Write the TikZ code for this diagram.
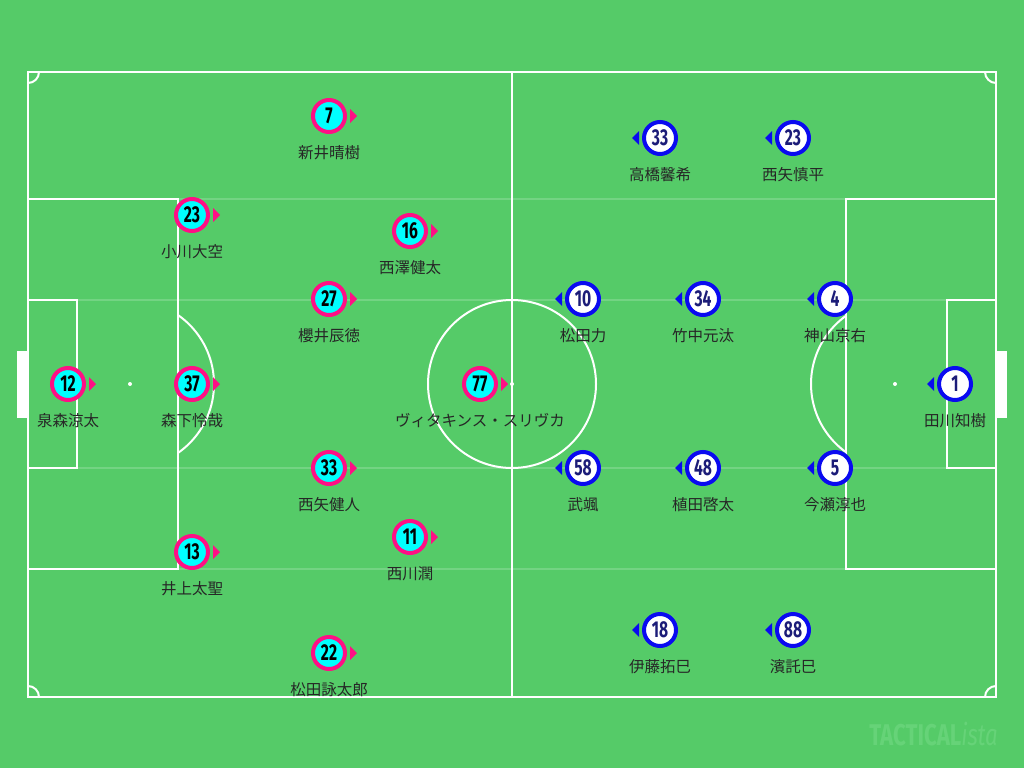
\documentclass[tikz,border=0pt]{standalone}
\usepackage{fontspec}
\newfontfamily\jpfont{Noto Sans CJK JP}
\newfontfamily\numfont[FakeStretch=0.68]{Fira Sans}
\newfontfamily\markfont[FakeStretch=0.74]{Fira Sans}
\usetikzlibrary{positioning}
\definecolor{pitchgreen}{HTML}{55CB68}
\definecolor{markgreen}{HTML}{66D378}
\definecolor{homepink}{HTML}{FF0F85}
\definecolor{homecyan}{HTML}{00FFFF}
\definecolor{awayblue}{HTML}{0A0AF0}
\definecolor{awaynavy}{HTML}{1C1C78}
\begin{document}
\begin{tikzpicture}[x=1pt,y=-1pt,
  pitchline/.style={draw=white,line width=2pt},
  lane/.style={draw=white,draw opacity=0.18,line width=2pt},
  home/.style={circle,draw=homepink,fill=homecyan,line width=4pt,minimum size=32pt,inner sep=0pt,
    font=\numfont\bfseries\fontsize{23}{23}\selectfont,text=black},
  away/.style={circle,draw=awayblue,fill=white,line width=4pt,minimum size=32pt,inner sep=0pt,
    font=\numfont\bfseries\fontsize{23}{23}\selectfont,text=awaynavy},
  tag/.style={inner sep=0pt,font=\jpfont\fontsize{15.5}{16}\selectfont,text=black!85}]
\fill[pitchgreen] (0,0) rectangle (1024,768);
\useasboundingbox (0,0) rectangle (1024,768);
% lanes
\foreach \ly in {199,300,468,569}
  \draw[lane] (28,\ly) -- (996,\ly);
% goals
\fill[white] (17,351) rectangle (28,418);
\fill[white] (996,351) rectangle (1007,418);
% pitch
\draw[pitchline] (28,72) rectangle (996,697);
\draw[pitchline] (512,72) -- (512,697);
\draw[pitchline] (512,384) circle (84);
\draw[pitchline] (28,199) rectangle (178,569);
\draw[pitchline] (846,199) rectangle (996,569);
\draw[pitchline] (28,300) rectangle (77,468);
\draw[pitchline] (947,300) rectangle (996,468);
\begin{scope}
  \clip (178,72) rectangle (400,697);
  \draw[pitchline] (130,384) circle (84);
\end{scope}
\begin{scope}
  \clip (846,72) rectangle (600,697);
  \draw[pitchline] (895,384) circle (84);
\end{scope}
\begin{scope}
  \clip (28,72) rectangle (996,697);
  \foreach \cx/\cy in {28/72,996/72,28/697,996/697}
    \draw[pitchline] (\cx,\cy) circle (11);
\end{scope}
\foreach \sx in {130,512,895}
  \fill[white] (\sx,384) circle (2);
% home
\foreach \x/\y/\num/\who [count=\k] in {
  329/116/7/新井晴樹, 192/215/23/小川大空, 410/231/16/西澤健太,
  329/299/27/櫻井辰徳, 68/384/12/泉森涼太, 192/384/37/森下怜哉,
  480/384/77/ヴィタキンス・スリヴカ, 329/468/33/西矢健人,
  410/537/11/西川潤, 192/552/13/井上太聖, 329/653/22/松田詠太郎} {
  \node[home] (h\k) at (\x,\y) {\num};
  \fill[homepink] ([shift={(21,-7)}]h\k.center) -- ++(7,7) -- ++(-7,7) -- cycle;
  \node[tag] (hn\k) at (\x,\y+37) {\who};
}
% away
\foreach \x/\y/\num/\who [count=\k] in {
  660/138/33/高橋馨希, 793/138/23/西矢慎平,
  583/299/10/松田力, 703/299/34/竹中元汰, 835/299/4/神山京右,
  955/384/1/田川知樹,
  583/468/58/武颯, 703/468/48/植田啓太, 835/468/5/今瀬淳也,
  660/630/18/伊藤拓巳, 793/630/88/濱託巳} {
  \node[away] (a\k) at (\x,\y) {\num};
  \fill[awayblue] ([shift={(-21,-7)}]a\k.center) -- ++(-7,7) -- ++(7,7) -- cycle;
  \node[tag] (an\k) at (\x,\y+37) {\who};
}
% watermark
\node[anchor=base east,inner sep=0pt,text=markgreen,font=\markfont\fontsize{30}{30}\selectfont]
  (mark) at (998,745) {\bfseries TACTICAL\mdseries\itshape ista};
\end{tikzpicture}
\end{document}
